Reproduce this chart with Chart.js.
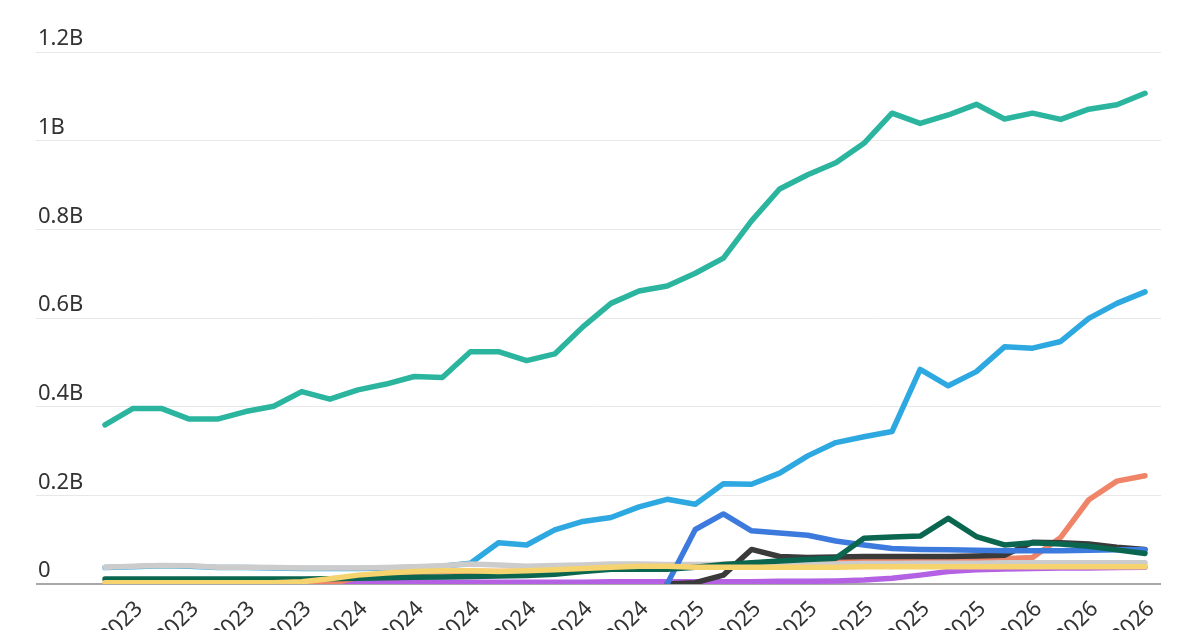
<!DOCTYPE html>
<html>
<head>
<meta charset="utf-8">
<script src="https://cdn.jsdelivr.net/npm/chart.js@4/dist/chart.umd.min.js"></script>
<style>
  html, body { margin: 0; padding: 0; background: #fff; overflow: hidden; }
  #wrap { width: 1200px; height: 630px; overflow: hidden; }
</style>
</head>
<body>
<div id="wrap"><canvas id="chart" width="1200" height="700"></canvas></div>
<script>
// monthly, Apr 2023 .. May 2026 (values in billions)
const months = [
  'Apr 2023', 'May 2023', 'Jun 2023', 'Jul 2023', 'Aug 2023', 'Sep 2023', 'Oct 2023', 'Nov 2023', 'Dec 2023',
  'Jan 2024', 'Feb 2024', 'Mar 2024', 'Apr 2024', 'May 2024', 'Jun 2024', 'Jul 2024', 'Aug 2024', 'Sep 2024',
  'Oct 2024', 'Nov 2024', 'Dec 2024', 'Jan 2025', 'Feb 2025', 'Mar 2025', 'Apr 2025', 'May 2025', 'Jun 2025',
  'Jul 2025', 'Aug 2025', 'Sep 2025', 'Oct 2025', 'Nov 2025', 'Dec 2025', 'Jan 2026', 'Feb 2026', 'Mar 2026',
  'Apr 2026', 'May 2026'
];
const yTicks = [0, 0.2, 0.4, 0.6, 0.8, 1, 1.2];

const teal = [0.359, 0.396, 0.396, 0.372, 0.372, 0.389, 0.401, 0.434, 0.417, 0.438, 0.451, 0.468, 0.466, 0.524, 0.524, 0.504, 0.519, 0.580, 0.633, 0.661, 0.672, 0.701, 0.735, 0.819, 0.891, 0.923, 0.950, 0.994, 1.062, 1.039, 1.058, 1.082, 1.049, 1.062, 1.048, 1.071, 1.081, 1.107];
const lightBlue = [0.037, 0.039, 0.041, 0.040, 0.037, 0.037, 0.036, 0.035, 0.035, 0.035, 0.036, 0.038, 0.040, 0.047, 0.093, 0.088, 0.122, 0.141, 0.150, 0.174, 0.191, 0.180, 0.226, 0.225, 0.250, 0.289, 0.319, 0.332, 0.344, 0.484, 0.447, 0.479, 0.535, 0.532, 0.547, 0.599, 0.633, 0.659];
const salmon = [0, 0, 0, 0, 0, 0, 0, 0, 0, 0.015, 0.022, 0.026, 0.028, 0.029, 0.028, 0.029, 0.031, 0.034, 0.036, 0.038, 0.040, 0.042, 0.044, 0.046, 0.048, 0.050, 0.052, 0.054, 0.055, 0.055, 0.055, 0.056, 0.057, 0.060, 0.105, 0.190, 0.232, 0.244];
const darkGreen = [0.011, 0.011, 0.011, 0.011, 0.011, 0.011, 0.011, 0.011, 0.012, 0.013, 0.014, 0.015, 0.016, 0.017, 0.018, 0.019, 0.022, 0.028, 0.033, 0.033, 0.033, 0.038, 0.044, 0.048, 0.052, 0.055, 0.058, 0.103, 0.106, 0.108, 0.148, 0.107, 0.088, 0.093, 0.090, 0.085, 0.077, 0.069];
const royalBlue = [null, null, null, null, null, null, null, null, null, null, null, null, null, null, null, null, null, null, null, null, 0, 0.123, 0.158, 0.120, 0.115, 0.110, 0.097, 0.088, 0.080, 0.078, 0.077, 0.076, 0.075, 0.075, 0.075, 0.076, 0.077, 0.077];
const black = [null, null, null, null, null, null, null, null, null, null, null, null, null, null, null, null, null, null, null, null, 0, 0.003, 0.020, 0.078, 0.062, 0.060, 0.061, 0.062, 0.062, 0.062, 0.062, 0.063, 0.065, 0.094, 0.093, 0.090, 0.083, 0.078];
const gray = [0.038, 0.040, 0.042, 0.041, 0.038, 0.038, 0.037, 0.036, 0.036, 0.036, 0.037, 0.039, 0.041, 0.045, 0.043, 0.040, 0.042, 0.043, 0.045, 0.045, 0.044, 0.044, 0.044, 0.044, 0.044, 0.045, 0.045, 0.046, 0.046, 0.047, 0.047, 0.047, 0.048, 0.048, 0.048, 0.048, 0.048, 0.048];
const yellow = [0.003, 0.003, 0.003, 0.003, 0.003, 0.003, 0.003, 0.005, 0.012, 0.020, 0.025, 0.028, 0.030, 0.030, 0.028, 0.030, 0.032, 0.035, 0.038, 0.040, 0.040, 0.038, 0.038, 0.038, 0.038, 0.038, 0.038, 0.039, 0.039, 0.039, 0.039, 0.039, 0.039, 0.039, 0.039, 0.039, 0.039, 0.039];
const purple = [0, 0, 0, 0, 0, 0, 0, 0, 0, 0.002, 0.004, 0.004, 0.004, 0.004, 0.004, 0.004, 0.004, 0.004, 0.005, 0.005, 0.005, 0.005, 0.005, 0.005, 0.006, 0.006, 0.007, 0.009, 0.013, 0.020, 0.028, 0.032, 0.034, 0.035, 0.036, 0.036, 0.037, 0.038];

// first entry is drawn on top
const series = [
  { data: teal, color: '#2bb59f' },
  { data: yellow, color: '#f5d36e' },
  { data: darkGreen, color: '#0b6650' },
  { data: royalBlue, color: '#3d7ade' },
  { data: black, color: '#3a3a3a' },
  { data: gray, color: '#cccccc' },
  { data: lightBlue, color: '#2ea8e0' },
  { data: salmon, color: '#ef8468' },
  { data: purple, color: '#b462e3' }
];

const font = { family: '"Noto Sans", sans-serif', size: 22 };

new Chart(document.getElementById('chart'), {
  type: 'line',
  data: {
    datasets: series.map(s => ({
      data: s.data.map((v, i) => ({ x: i, y: v })),
      borderColor: s.color,
      borderWidth: 5.5,
      pointRadius: 0,
      tension: 0,
      spanGaps: false,
      borderJoinStyle: 'round',
      borderCapStyle: 'round',
      fill: false
    }))
  },
  options: {
    responsive: false,
    animation: false,
    layout: { padding: { left: 36, right: 39, top: 52, bottom: 0 } },
    plugins: { legend: { display: false }, tooltip: { enabled: false } },
    scales: {
      x: {
        type: 'linear',
        min: -2.455,
        max: 37.569,
        grid: { display: false },
        border: { display: false },
        afterBuildTicks: s => { s.ticks = months.map((m, i) => ({ value: i })).filter(t => t.value % 2 === 1); },
        afterFit: s => { s.height = 116; s.paddingLeft = 0; s.paddingRight = 0; },
        ticks: {
          autoSkip: false,
          minRotation: 45,
          maxRotation: 45,
          padding: 4,
          labelOffset: 6,
          color: '#333',
          font: font,
          callback: v => months[v]
        }
      },
      y: {
        min: 0,
        max: 1.2,
        afterBuildTicks: s => { s.ticks = yTicks.map(v => ({ value: v })); },
        afterFit: s => { s.width = 0; s.paddingTop = 0; s.paddingBottom = 0; },
        border: { display: false },
        grid: {
          drawTicks: false,
          color: c => c.tick.value === 0 ? '#a8a8a8' : '#e8e8e8',
          lineWidth: c => c.tick.value === 0 ? 2 : 1
        },
        ticks: {
          mirror: true,
          padding: 2,
          labelOffset: -13,
          color: '#333',
          font: font,
          callback: v => v === 0 ? '0' : Math.round(v * 10) / 10 + 'B'
        }
      }
    }
  }
});
</script>
</body>
</html>
